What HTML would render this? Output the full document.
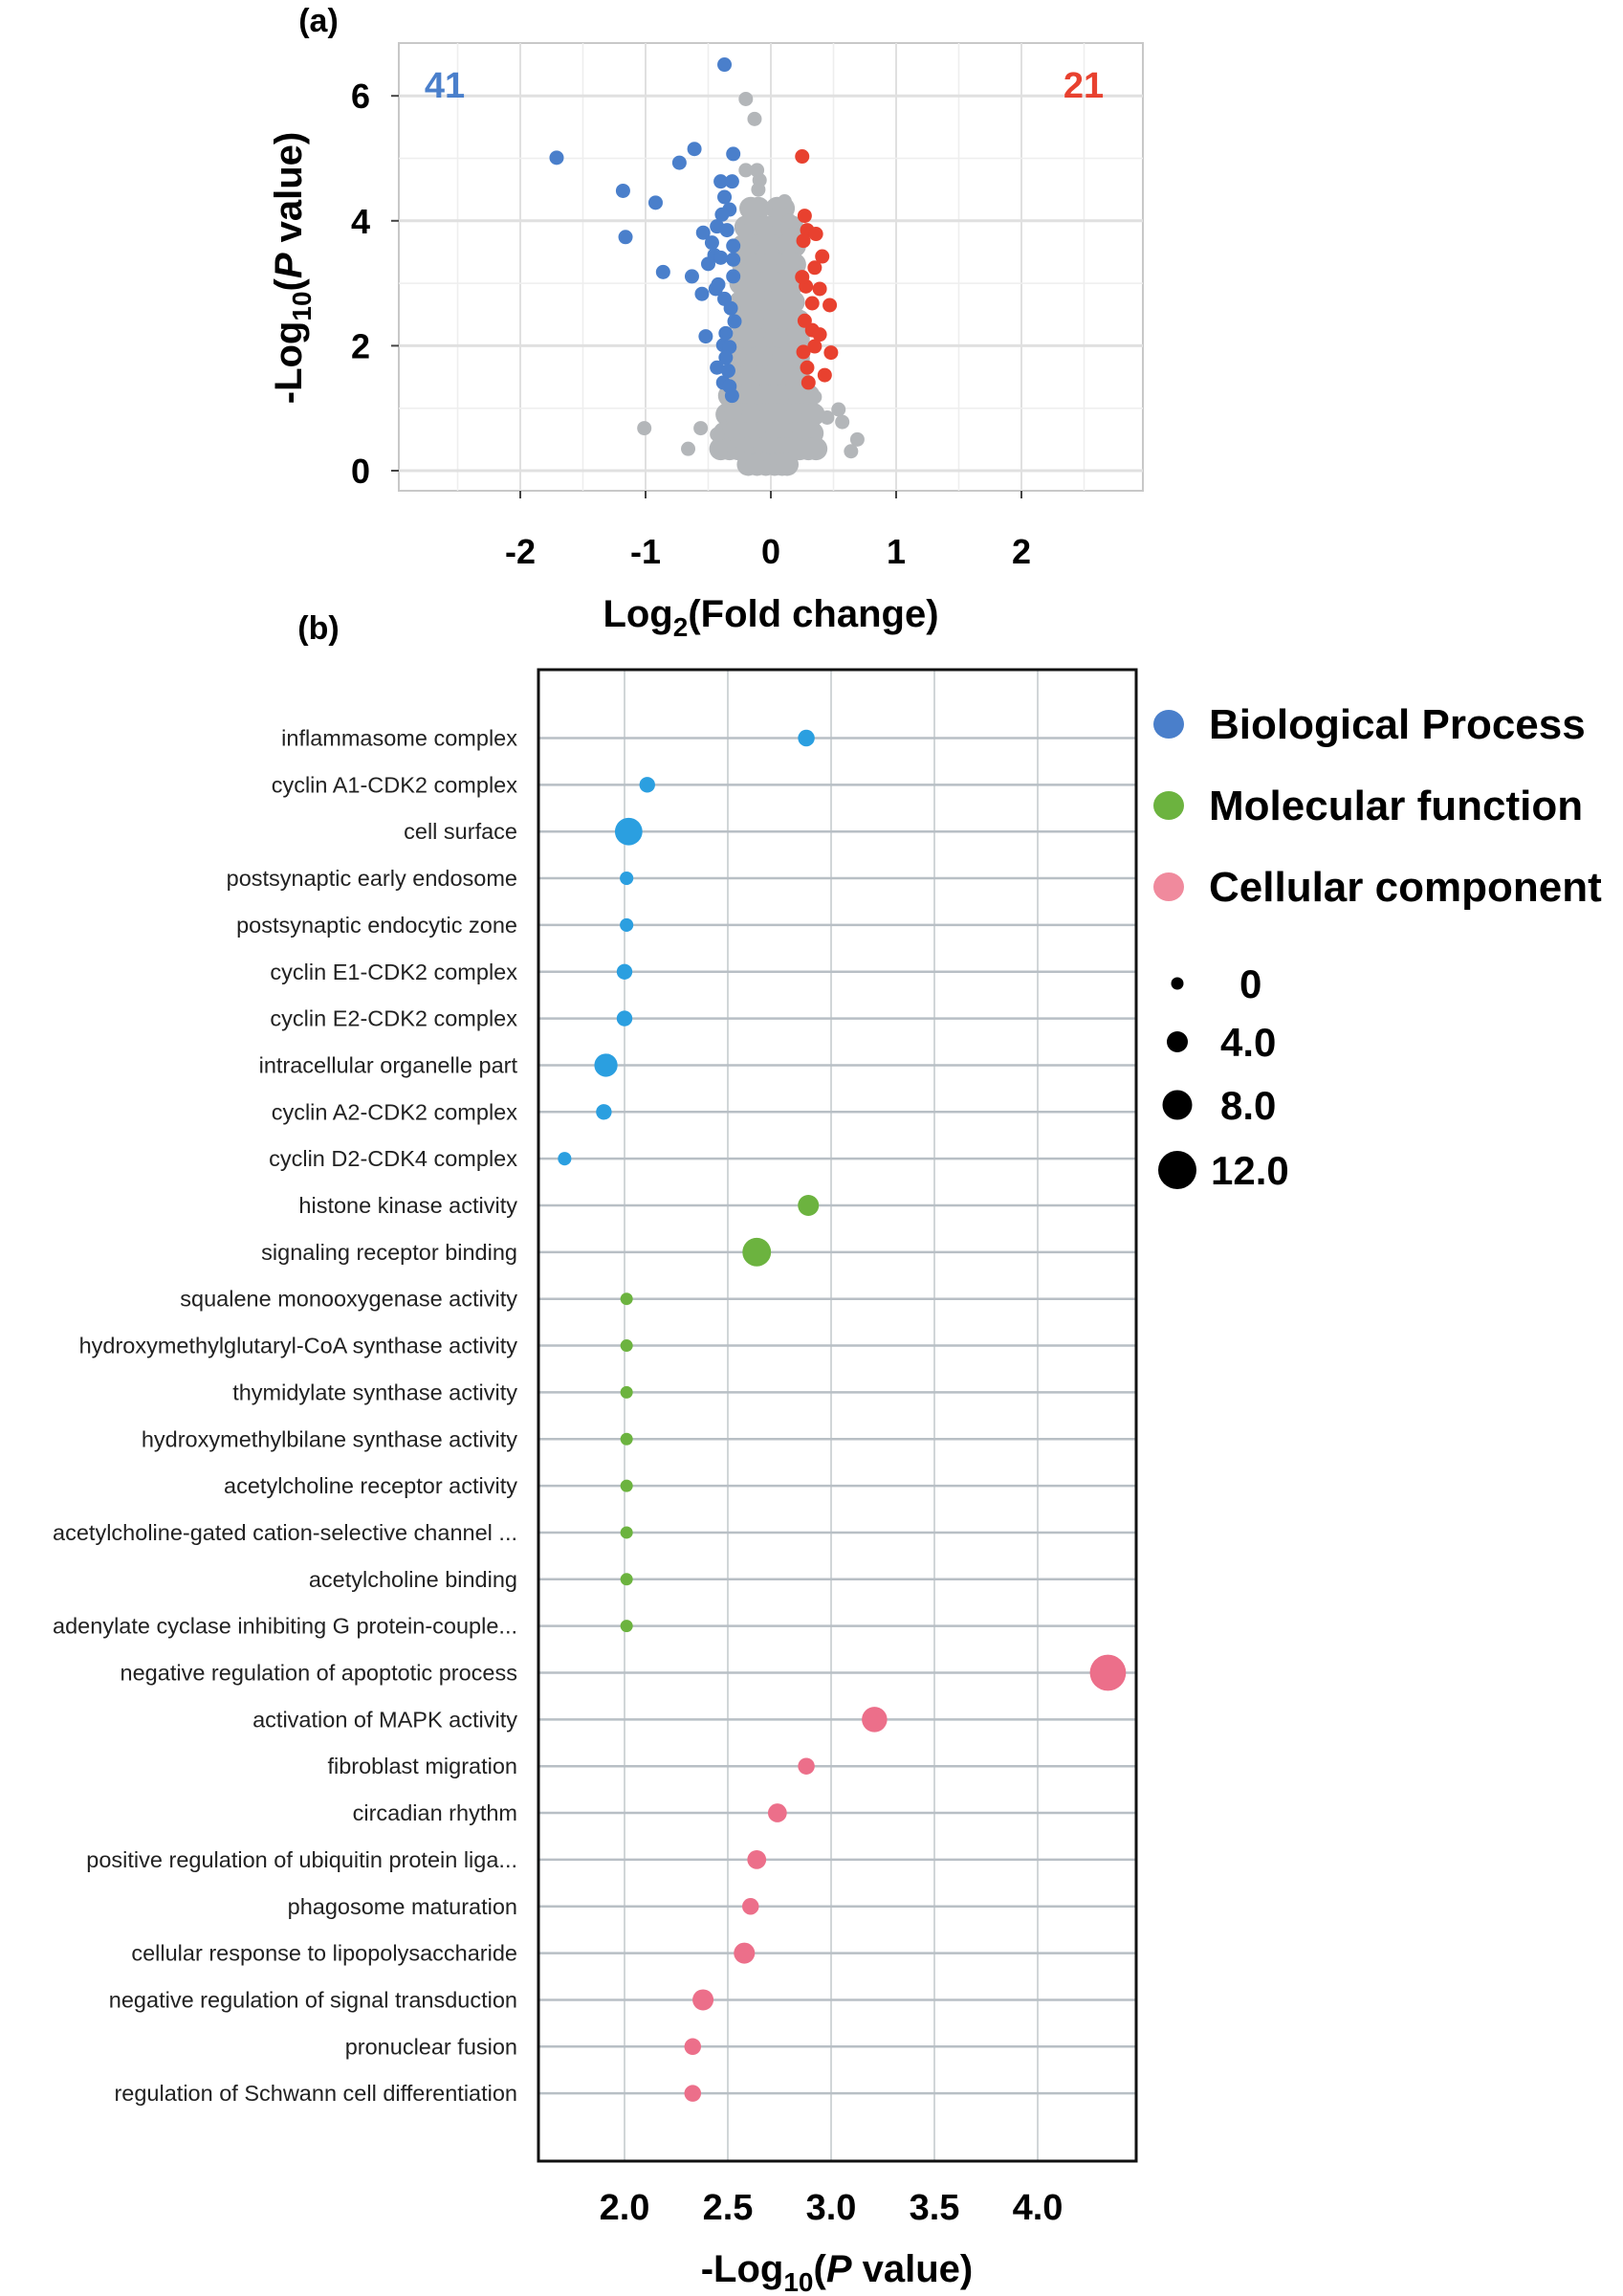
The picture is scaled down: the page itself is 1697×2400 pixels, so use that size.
<!DOCTYPE html>
<html><head><meta charset="utf-8"><style>
html,body{margin:0;padding:0;background:#fff;}
svg{display:block;font-family:"Liberation Sans",sans-serif;}
</style></head><body>
<svg id="fig" width="1697" height="2400" viewBox="0 0 1697 2400">
<text x="333" y="33" font-size="34" font-weight="bold" text-anchor="middle">(a)</text>
<text x="333" y="668" font-size="34" font-weight="bold" text-anchor="middle">(b)</text>
<g id="volcano"></g>
<g id="dot"></g>
</svg>
<script>
// ---------- Panel (a) data ----------
const volcXTicks = [-2, -1, 0, 1, 2];
const volcYTicks = [0, 2, 4, 6];
const countDown = "41";
const countUp = "21";
const blueX = [-0.37,-1.71,-0.61,-0.73,-0.30,-1.18,-0.92,-1.16,-0.40,-0.31,-0.37,-0.33,-0.43,-0.35,-0.54,-0.47,-0.45,-0.40,-0.50,-0.30,-0.86,-0.63,-0.30,-0.42,-0.44,-0.55,-0.37,-0.29,-0.52,-0.38,-0.33,-0.36,-0.43,-0.38,-0.32,-0.34,-0.31,-0.36,-0.30,-0.39,-0.33];
const blueY = [6.5,5.01,5.15,4.93,5.07,4.48,4.29,3.74,4.63,4.63,4.38,4.18,3.91,3.85,3.81,3.65,3.45,3.41,3.31,3.38,3.18,3.11,3.11,2.98,2.91,2.83,2.75,2.39,2.15,2.01,1.98,1.81,1.65,1.41,2.6,1.6,1.2,2.2,3.6,4.1,1.35];
const redX = [0.25,0.27,0.29,0.36,0.26,0.41,0.35,0.28,0.39,0.33,0.47,0.33,0.39,0.35,0.48,0.29,0.43,0.30,0.27,0.25,0.26];
const redY = [5.03,4.08,3.85,3.79,3.68,3.43,3.25,2.95,2.91,2.68,2.65,2.25,2.18,1.99,1.89,1.65,1.53,1.41,2.4,3.1,1.9];
const grayOutX = [-0.20,-0.13,-0.20,-0.11,-0.09,0.11,-1.01,-0.56,-0.66,0.54,0.57,0.69,0.64,0.45,0.35,-0.43,-0.10,0.15];
const grayOutY = [5.95,5.63,4.81,4.81,4.65,4.31,0.68,0.68,0.35,0.98,0.78,0.50,0.31,0.85,1.18,0.58,4.5,4.0];
const grayRowY = [4.2,3.9,3.6,3.3,3.0,2.7,2.4,2.1,1.8,1.5,1.2,0.9,0.6,0.35,0.1];
const grayRowX = [
 [-0.16,-0.1,0.05,0.1],
 [-0.2,-0.12,-0.04,0.04,0.1,0.17],
 [-0.22,-0.15,-0.08,-0.01,0.06,0.13,0.19],
 [-0.22,-0.15,-0.08,-0.01,0.06,0.13,0.19],
 [-0.24,-0.17,-0.1,-0.03,0.04,0.11,0.18],
 [-0.24,-0.17,-0.1,-0.03,0.04,0.11,0.18],
 [-0.25,-0.18,-0.11,-0.04,0.03,0.1,0.17,0.22],
 [-0.25,-0.18,-0.11,-0.04,0.03,0.1,0.17,0.22],
 [-0.25,-0.18,-0.11,-0.04,0.03,0.1,0.17,0.22],
 [-0.27,-0.2,-0.13,-0.06,0.01,0.08,0.15,0.22],
 [-0.33,-0.26,-0.19,-0.12,-0.05,0.02,0.09,0.16,0.23,0.3],
 [-0.35,-0.28,-0.21,-0.14,-0.07,0,0.07,0.14,0.21,0.28,0.34],
 [-0.37,-0.3,-0.23,-0.16,-0.09,-0.02,0.05,0.12,0.19,0.26,0.33],
 [-0.4,-0.33,-0.26,-0.19,-0.12,-0.05,0.02,0.09,0.16,0.23,0.3,0.36],
 [-0.18,-0.11,-0.04,0.03,0.09,0.13]
];

// ---------- Panel (b) data ----------
const terms = ["inflammasome complex","cyclin A1-CDK2 complex","cell surface","postsynaptic early endosome","postsynaptic endocytic zone","cyclin E1-CDK2 complex","cyclin E2-CDK2 complex","intracellular organelle part","cyclin A2-CDK2 complex","cyclin D2-CDK4 complex","histone kinase activity","signaling receptor binding","squalene monooxygenase activity","hydroxymethylglutaryl-CoA synthase activity","thymidylate synthase activity","hydroxymethylbilane synthase activity","acetylcholine receptor activity","acetylcholine-gated cation-selective channel ...","acetylcholine binding","adenylate cyclase inhibiting G protein-couple...","negative regulation of apoptotic process","activation of MAPK activity","fibroblast migration","circadian rhythm","positive regulation of ubiquitin protein liga...","phagosome maturation","cellular response to lipopolysaccharide","negative regulation of signal transduction","pronuclear fusion","regulation of Schwann cell differentiation"];
const termCategory = ["BP","BP","BP","BP","BP","BP","BP","BP","BP","BP","MF","MF","MF","MF","MF","MF","MF","MF","MF","MF","CC","CC","CC","CC","CC","CC","CC","CC","CC","CC"];
const logP = [2.88,2.11,2.02,2.01,2.01,2.0,2.0,1.91,1.90,1.71,2.89,2.64,2.01,2.01,2.01,2.01,2.01,2.01,2.01,2.01,4.34,3.21,2.88,2.74,2.64,2.61,2.58,2.38,2.33,2.33];
const geneCount = [2,1.5,7,0.5,0.5,1.5,1.5,5,1.5,0.5,4,7.5,0,0,0,0,0,0,0,0,11,6,2,3,3,2,4,4,2,2];
const dotXTicks = ["2.0","2.5","3.0","3.5","4.0"];
const legendCats = ["Biological Process","Molecular function","Cellular component"];
const legendSizes = [0,4,8,12];
const legendSizeLabels = ["0","4.0","8.0","12.0"];

const NS = "http://www.w3.org/2000/svg";
function mk(tag, attrs, parent){const e=document.createElementNS(NS,tag);for(const k in attrs)e.setAttribute(k,attrs[k]);parent.appendChild(e);return e;}

// ---------- Draw panel (a) ----------
(function(){
 const g=document.getElementById('volcano');
 const L=417,R=1195,T=45,B=513;
 const xs=v=>806+v*131, ys=v=>492-v*65.3;
 const bg=mk('rect',{x:L,y:T,width:R-L,height:B-T,fill:'#fff',stroke:'#c8c8c8','stroke-width':2},g);
 
 
 for(let v=-2.5;v<=2.5;v+=0.5){const l=mk('line',{x1:xs(v),x2:xs(v),y1:T,y2:B,stroke:Number.isInteger(v)?'#e0e0e0':'#eeeeee','stroke-width':Number.isInteger(v)?2:1.5},g);}
 for(let v=0;v<=6;v+=1){const l=mk('line',{x1:L,x2:R,y1:ys(v),y2:ys(v),stroke:v%2===0?'#e0e0e0':'#eeeeee','stroke-width':v%2===0?3:1.5},g);}
 volcXTicks.forEach(v=>{
  mk('line',{x1:xs(v),x2:xs(v),y1:B,y2:B+8,stroke:'#444','stroke-width':2},g);
  const t=mk('text',{x:xs(v),y:589,'font-size':36,'font-weight':'bold','text-anchor':'middle'},g);t.textContent=v;
  
 });
 volcYTicks.forEach(v=>{
  mk('line',{x1:L-8,x2:L,y1:ys(v),y2:ys(v),stroke:'#444','stroke-width':2},g);
  const t=mk('text',{x:L-30,y:ys(v)+13,'font-size':36,'font-weight':'bold','text-anchor':'end'},g);t.textContent=v;
  
 });
 grayRowY.forEach((y,i)=>grayRowX[i].forEach(x=>{const c=mk('circle',{cx:xs(x),cy:ys(y),r:12,fill:'#b3b6b9'},g);}));
 grayOutX.forEach((x,i)=>{const c=mk('circle',{cx:xs(x),cy:ys(grayOutY[i]),r:7.5,fill:'#b3b6b9'},g);});
 blueX.forEach((x,i)=>{const c=mk('circle',{cx:xs(x),cy:ys(blueY[i]),r:7.5,fill:'#4a7fcb'},g);});
 redX.forEach((x,i)=>{const c=mk('circle',{cx:xs(x),cy:ys(redY[i]),r:7.5,fill:'#e8412f'},g);});
 let t=mk('text',{x:465,y:102,'font-size':38,'font-weight':'bold',fill:'#4a7fcb','text-anchor':'middle'},g);t.textContent=countDown;
 
 t=mk('text',{x:1133,y:102,'font-size':38,'font-weight':'bold',fill:'#e8412f','text-anchor':'middle'},g);t.textContent=countUp;
 
 t=mk('text',{x:806,y:655,'font-size':40,'font-weight':'bold','text-anchor':'middle'},g);
 t.innerHTML='Log<tspan font-size="28" dy="10">2</tspan><tspan dy="-10">(Fold change)</tspan>';
 
 t=mk('text',{x:0,y:0,'font-size':40,'font-weight':'bold','text-anchor':'middle',transform:'translate(315,280) rotate(-90)'},g);
 t.innerHTML='-Log<tspan font-size="28" dy="10">10</tspan><tspan dy="-10">(</tspan><tspan font-style="italic">P</tspan> value)';
 
})();

// ---------- Draw panel (b) ----------
(function(){
 const g=document.getElementById('dot');
 const L=563,R=1188,T=700,B=2259;
 const xs=v=>653+(v-2)*216, ys=i=>771.5+i*48.85, rs=c=>6.5+c*1.125;
 const colors={BP:'#2b9fe0',MF:'#6cb33f',CC:'#ec6f8a'};
 dotXTicks.forEach(v=>{
  const l=mk('line',{x1:xs(+v),x2:xs(+v),y1:T,y2:B,stroke:'#c2c8cc','stroke-width':1.5},g);
  
  const t=mk('text',{x:xs(+v),y:2320,'font-size':38,'font-weight':'bold','text-anchor':'middle'},g);t.textContent=v;
  
 });
 terms.forEach((name,i)=>{
  const y=ys(i);
  const l=mk('line',{x1:L,x2:R,y1:y,y2:y,stroke:'#b8bfc5','stroke-width':2.5},g);
  
  const t=mk('text',{x:541,y:y+8,'font-size':23.5,'text-anchor':'end',fill:'#222'},g);t.textContent=name;
  
 });
 terms.forEach((name,i)=>{
  const c=mk('circle',{cx:xs(logP[i]),cy:ys(i),r:rs(geneCount[i]),fill:colors[termCategory[i]]},g);
  
 });
 const f=mk('rect',{x:L,y:T,width:R-L,height:B-T,fill:'none',stroke:'#111','stroke-width':3},g);
 
 let t=mk('text',{x:875,y:2385,'font-size':40,'font-weight':'bold','text-anchor':'middle'},g);
 t.innerHTML='-Log<tspan font-size="28" dy="10">10</tspan><tspan dy="-10">(</tspan><tspan font-style="italic">P</tspan> value)';
 
 const legColors=['#4a7fcb','#6cb33f','#f08a9d'];
 legendCats.forEach((n,i)=>{
  const y=757+i*85;
  const c=mk('ellipse',{cx:1222,cy:y,rx:16,ry:15,fill:legColors[i]},g);
  
  const tt=mk('text',{x:1264,y:y+15,'font-size':44,'font-weight':'bold'},g);tt.textContent=n;
  
 });
 const sizeY=[1028,1089,1155,1223];
 legendSizes.forEach((s,i)=>{
  const c=mk('circle',{cx:1231,cy:sizeY[i],r:rs(s),fill:'#000'},g);
  
  const tt=mk('text',{x:i===0?1296:(i===3?1266:1276),y:sizeY[i]+15,'font-size':42,'font-weight':'bold'},g);tt.textContent=legendSizeLabels[i];
  
 });
})();
</script>
</body></html>
